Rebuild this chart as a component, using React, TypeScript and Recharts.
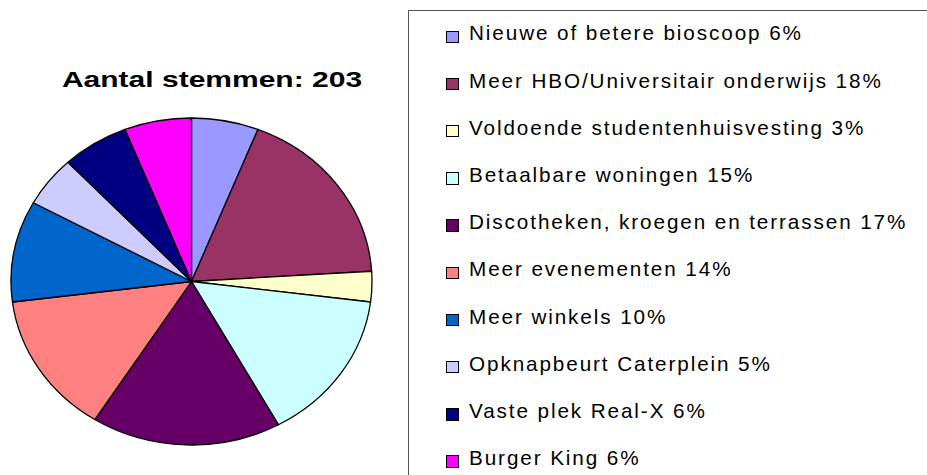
import React from 'react';
import { PieChart, Pie, Cell, Legend } from 'recharts';

const categories = [
  'Nieuwe of betere bioscoop',
  'Meer HBO/Universitair onderwijs',
  'Voldoende studentenhuisvesting',
  'Betaalbare woningen',
  'Discotheken, kroegen en terrassen',
  'Meer evenementen',
  'Meer winkels',
  'Opknapbeurt Caterplein',
  'Vaste plek Real-X',
  'Burger King',
];
const percentages = [6, 18, 3, 15, 17, 14, 10, 5, 6, 6];
const colors = ['#9999FF', '#993366', '#FFFFCC', '#CCFFFF', '#660066', '#FF8080', '#0066CC', '#CCCCFF', '#000080', '#FF00FF'];
const totalVotes = 203;

const data = categories.map((name, i) => ({ name, value: percentages[i] }));

const RX = 180.5;
const RY = 163.5;
const FONT = 'Liberation Sans, Arial, sans-serif';

// elliptical slice, the original chart is slightly squashed vertically
const EllipseSector = (props: any) => {
  const { cx, cy, startAngle, endAngle, fill } = props;
  const rad = Math.PI / 180;
  const x1 = cx + RX * Math.cos(startAngle * rad);
  const y1 = cy - RY * Math.sin(startAngle * rad);
  const x2 = cx + RX * Math.cos(endAngle * rad);
  const y2 = cy - RY * Math.sin(endAngle * rad);
  const large = Math.abs(startAngle - endAngle) > 180 ? 1 : 0;
  const d = `M${cx},${cy} L${x1},${y1} A${RX},${RY} 0 ${large} 1 ${x2},${y2} Z`;
  return <path d={d} fill={fill} stroke="#000" strokeWidth={1.3} strokeLinejoin="round" />;
};

const renderLegend = () => (
  <div style={{ width: 519, height: 470, borderTop: '1.5px solid #555', borderLeft: '1.5px solid #555', position: 'relative', boxSizing: 'border-box' }}>
    {categories.map((name, i) => (
      <React.Fragment key={name}>
        <span style={{ position: 'absolute', left: 37, top: 19.5 + 47.2 * i, width: 12.5, height: 12.5, boxSizing: 'border-box', background: colors[i], border: '1.4px solid #000' }} />
        <span style={{ position: 'absolute', left: 60, top: 10.3 + 47.2 * i, whiteSpace: 'nowrap', fontFamily: FONT, fontSize: 20.7, letterSpacing: 1.9, color: '#000' }}>
          {name} {percentages[i]}%
        </span>
      </React.Fragment>
    ))}
  </div>
);

export default function App() {
  return (
    <div style={{ position: 'fixed', left: 0, top: 0, width: 927, height: 475, background: '#fff', overflow: 'hidden' }}>
      <div style={{ position: 'absolute', left: 12, width: 400, top: 67, textAlign: 'center', fontFamily: FONT, fontWeight: 'bold', fontSize: 22.4, color: '#000', transform: 'scaleX(1.34)', whiteSpace: 'nowrap' }}>
        Aantal stemmen: {totalVotes}
      </div>
      <PieChart width={927} height={475} margin={{ top: 0, right: 0, bottom: 0, left: 0 }} style={{ position: 'absolute', left: 0, top: 0 }}>
        <Pie
          data={data}
          dataKey="value"
          nameKey="name"
          cx={191.5}
          cy={281.5}
          outerRadius={RX}
          startAngle={90}
          endAngle={-270}
          shape={EllipseSector}
          isAnimationActive={false}
        >
          {data.map((d, i) => (
            <Cell key={d.name} fill={colors[i]} />
          ))}
        </Pie>
        <Legend content={renderLegend} wrapperStyle={{ left: 408, top: 10, width: 519 }} />
      </PieChart>
    </div>
  );
}
